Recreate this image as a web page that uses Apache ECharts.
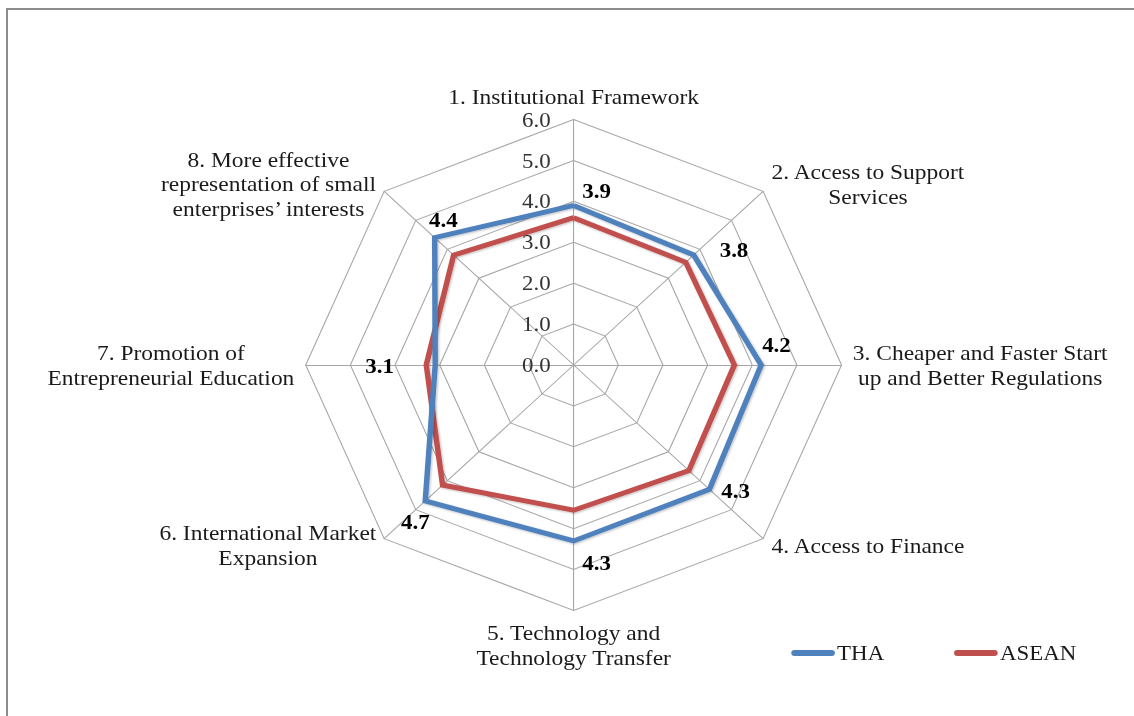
<!DOCTYPE html>
<html>
<head>
<meta charset="utf-8">
<script src="https://cdn.jsdelivr.net/npm/echarts@6/dist/echarts.min.js"></script>
<style>
  html, body { margin: 0; padding: 0; background: #fff; }
  body { width: 1134px; height: 716px; position: relative; overflow: hidden; }
  .frame {
    position: absolute; left: 6px; top: 8px; width: 1200px; height: 800px; z-index: 2;
    border-top: 2px solid #8c8c8c; border-left: 2px solid #8c8c8c; pointer-events: none;
  }
  /* the source picture is stretched sideways, so the chart is drawn narrower and scaled */
  #main {
    position: absolute; left: 0; top: 0; width: 1039px; height: 716px; z-index: 1;
    transform: scaleX(1.0914); transform-origin: 0 0;
  }
</style>
</head>
<body>
<div class="frame"></div>
<div id="main"></div>
<script>
// indicators, clockwise from the top
const categories = [
  '1. Institutional Framework',
  '2. Access to Support\nServices',
  '3. Cheaper and Faster Start\nup and Better Regulations',
  '4. Access to Finance',
  '5. Technology and\nTechnology Transfer',
  '6. International Market\nExpansion',
  '7. Promotion of\nEntrepreneurial Education',
  '8. More effective\nrepresentation of small\nenterprises\u2019 interests'
]
const thaValues = [3.9, 3.8, 4.2, 4.3, 4.3, 4.7, 3.1, 4.4]
const aseanValues = [3.6, 3.55, 3.6, 3.65, 3.55, 4.15, 3.3, 3.8]
const axisMax = 6
const seriesNames = ['THA', 'ASEAN']

// where each THA label sits relative to its point (same order as categories)
const labelOffsets = [[21, -15], [37, -5], [14, -20], [24, 1], [21, 22], [-9, 21], [-51, 1], [8, -18]]

const center = [525.6, 365]
const radius = 245.5
const font = 'Liberation Serif'
const nameSize = 21.5

// echarts walks the indicators counter-clockwise, so flip 2..8
const order = [0, 7, 6, 5, 4, 3, 2, 1]
const pick = arr => order.map(i => arr[i])

// centre the lines of each name inside its own block
const ctx = document.createElement('canvas').getContext('2d')
ctx.font = nameSize + 'px "' + font + '"'
const rich = {}
categories.forEach((name, i) => {
  const w = Math.max(...name.split('\n').map(l => ctx.measureText(l).width))
  rich['n' + i] = { width: Math.ceil(w), align: 'center', fontSize: nameSize, lineHeight: 25, fontFamily: font, color: '#1a1a1a' }
})

const chart = echarts.init(document.getElementById('main'), null, { renderer: 'svg' })

const indicator = pick(categories).map((name, j) => {
  const ind = { name: name, min: 0, max: axisMax }
  if (j === 0) {
    ind.axisLabel = {
      show: true,
      margin: 21,
      fontSize: 21,
      fontFamily: font,
      color: '#333',
      formatter: v => Number(v).toFixed(1)
    }
  }
  return ind
})

const option = {
  animation: false,
  legend: {
    left: 720,
    top: 636,
    itemGap: 64,
    itemWidth: 40,
    itemHeight: 6,
    icon: 'path://M3,0 L37,0 A3,3 0 0 1 37,6 L3,6 A3,3 0 0 1 3,0 Z',
    textStyle: { fontSize: 21, fontFamily: font, color: '#1a1a1a', lineHeight: 24, padding: [0, 0, 0, -3] },
    data: seriesNames
  },
  radar: {
    center: center,
    radius: radius,
    startAngle: 90,
    splitNumber: 6,
    shape: 'polygon',
    nameGap: 10,
    indicator: indicator,
    axisName: {
      color: '#1a1a1a',
      fontSize: nameSize,
      fontFamily: font,
      lineHeight: 25,
      rich: rich,
      formatter: name => {
        const i = categories.indexOf(name)
        return name.split('\n').map(l => '{n' + i + '|' + l + '}').join('\n')
      }
    },
    axisLine: { lineStyle: { color: '#a6a6a6', width: 1 } },
    splitLine: { lineStyle: { color: '#a6a6a6', width: 1 } },
    splitArea: { show: false }
  },
  series: [
    {
      name: seriesNames[0],
      type: 'radar',
      z: 3,
      symbol: 'circle',
      symbolSize: 1,
      itemStyle: { color: '#4f81bd' },
      lineStyle: {
        color: '#4f81bd', width: 5, join: 'miter',
        shadowColor: 'rgba(0,0,0,0.25)', shadowBlur: 2, shadowOffsetX: 1, shadowOffsetY: 1
      },
      label: {
        show: true,
        fontSize: 21,
        fontWeight: 'bold',
        fontFamily: font,
        color: '#000',
        formatter: p => Number(p.value).toFixed(1)
      },
      labelLayout: p => {
        const x = p.rect.x + p.rect.width / 2
        const y = p.rect.y + p.rect.height / 2
        const deg = Math.atan2(center[1] - y, x - center[0]) * 180 / Math.PI
        const k = ((Math.round((90 - deg) / 45) % 8) + 8) % 8
        const o = labelOffsets[k]
        return { x: x + o[0], y: y + o[1], align: 'center', verticalAlign: 'middle' }
      },
      data: [{ name: seriesNames[0], value: pick(thaValues) }]
    },
    {
      name: seriesNames[1],
      type: 'radar',
      z: 2,
      symbol: 'none',
      itemStyle: { color: '#c0504d' },
      lineStyle: {
        color: '#c0504d', width: 5, join: 'miter',
        shadowColor: 'rgba(0,0,0,0.25)', shadowBlur: 2, shadowOffsetX: 1, shadowOffsetY: 1
      },
      data: [{ name: seriesNames[1], value: pick(aseanValues) }]
    }
  ]
}

chart.setOption(option)
</script>
</body>
</html>
